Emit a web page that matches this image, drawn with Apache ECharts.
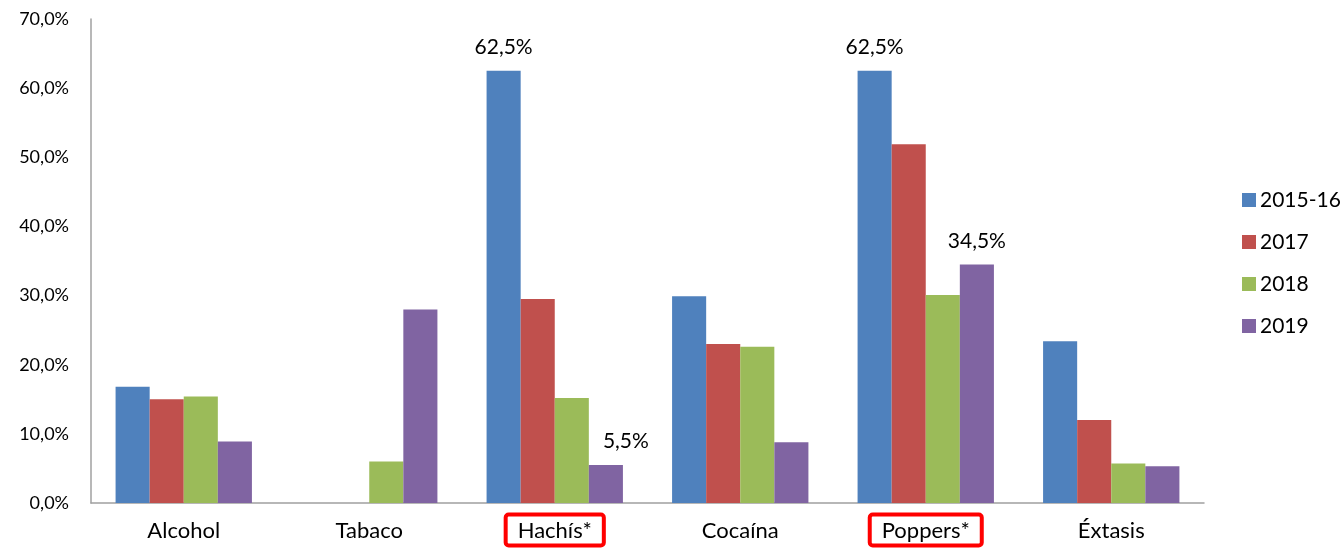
<!DOCTYPE html>
<html><head><meta charset="utf-8">
<script src="https://cdn.jsdelivr.net/npm/echarts@6/dist/echarts.min.js"></script>
<style>html,body{margin:0;padding:0;background:#fff}#c{width:1342px;height:550px}</style>
</head><body><div id="c"></div>
<script>
const categories = ['Alcohol', 'Tabaco', 'Hachís*', 'Cocaína', 'Poppers*', 'Éxtasis'];
const boxedCategories = ['Hachís*', 'Poppers*'];
const seriesNames = ['2015-16', '2017', '2018', '2019'];
const v2015_16 = [16.8, null, 62.5, 29.9, 62.5, 23.4];
const v2017 = [15.0, null, 29.5, 23.0, 51.9, 12.0];
const v2018 = [15.4, 6.0, 15.2, 22.6, 30.1, 5.7];
const v2019 = [8.9, 28.0, 5.5, 8.8, 34.5, 5.3];
const yTicks = [0, 10, 20, 30, 40, 50, 60, 70];
// labelled points: [seriesIndex, categoryIndex]
const labelled = [[0, 2], [0, 4], [3, 2], [3, 4]];

const colors = ['#4F81BD', '#C0504D', '#9BBB59', '#8064A2'];
const allValues = [v2015_16, v2017, v2018, v2019];
const fmt = v => v.toFixed(1).replace('.', ',') + '%';
const FONT = 'Lato';

const series = allValues.map((vals, si) => ({
  name: seriesNames[si],
  type: 'bar',
  barGap: '0%',
  barCategoryGap: '26.5%',
  itemStyle: { color: colors[si] },
  data: vals.map((v, ci) => {
    const isLab = labelled.some(p => p[0] === si && p[1] === ci);
    const d = { value: v };
    if (isLab) {
      d.label = {
        show: true, position: 'top', distance: 13,
        formatter: p => fmt(p.value),
        color: '#000', fontSize: 21, fontFamily: FONT,
        offset: (si === 3 && ci === 2) ? [20, 0] : [0, 0]
      };
    }
    return d;
  })
}));

const chart = echarts.init(document.getElementById('c'), null, { renderer: 'canvas' });
chart.setOption({
  animation: false,
  color: colors,
  textStyle: { fontFamily: FONT },
  grid: { left: 91, right: 138, top: 19, bottom: 47, containLabel: false },
  legend: {
    orient: 'vertical', right: 0, left: 1237, top: 184,
    itemWidth: 14, itemHeight: 14, itemGap: 20,
    icon: 'rect',
    textStyle: { fontSize: 21, lineHeight: 22, color: '#000', fontFamily: FONT, padding: [0, 0, 0, -1] },
    data: seriesNames
  },
  xAxis: {
    type: 'category', data: categories,
    axisLine: { lineStyle: { color: '#A0A0A0', width: 1.5 } },
    axisTick: { show: false },
    axisLabel: {
      margin: 16, interval: 0,
      formatter: v => boxedCategories.includes(v) ? '{b|' + v + '}' : '{n|' + v + '}',
      rich: {
        b: { fontSize: 22, lineHeight: 22, color: '#000', fontFamily: FONT, borderColor: '#FF0000', borderWidth: 4, borderRadius: 3, padding: [5, 12, 4, 12] },
        n: { fontSize: 22, lineHeight: 22, color: '#000', fontFamily: FONT, borderColor: 'transparent', borderWidth: 4, padding: [5, 12, 4, 12] }
      }
    }
  },
  yAxis: {
    type: 'value', min: 0, max: 70, interval: 10,
    axisLine: { show: true, lineStyle: { color: '#A0A0A0', width: 1.5 } },
    axisTick: { show: false },
    splitLine: { show: false },
    axisLabel: {
      margin: 22, color: '#000', fontSize: 18, fontFamily: FONT,
      formatter: v => yTicks.includes(v) ? fmt(v) : ''
    }
  },
  series: series
});
</script></body></html>
